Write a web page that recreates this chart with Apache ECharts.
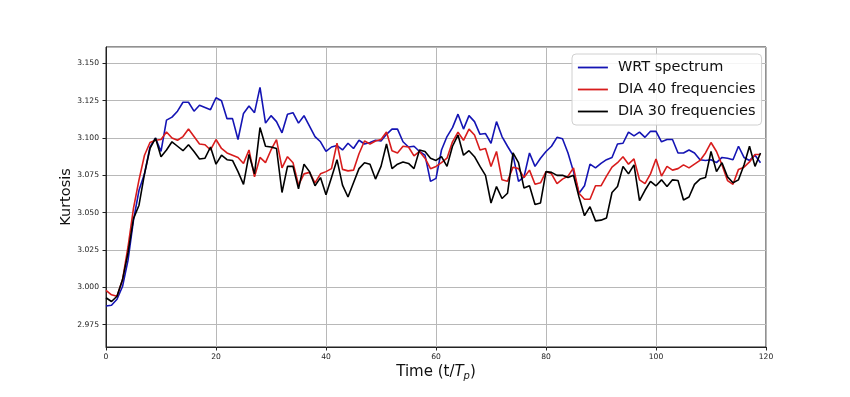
<!DOCTYPE html>
<html>
<head>
<meta charset="utf-8">
<script src="https://cdn.jsdelivr.net/npm/echarts@6/dist/echarts.min.js"></script>
<style>
  html, body { margin: 0; padding: 0; background: #fff; }
  #main { width: 850px; height: 397px; }
</style>
</head>
<body>
<div id="main"></div>
<script>
// kurtosis samples, one per t/Tp step (0..119)
const wrtSpectrum = [
  2.9875, 2.988, 2.992, 3.0005, 3.018, 3.045, 3.065, 3.076, 3.094, 3.100,
  3.091, 3.112, 3.114, 3.118, 3.124, 3.124, 3.118, 3.122, 3.1205, 3.119,
  3.127, 3.125, 3.113, 3.113, 3.099, 3.1165, 3.1215, 3.117, 3.134, 3.110,
  3.115, 3.111, 3.1035, 3.116, 3.117, 3.110, 3.115, 3.108, 3.101, 3.0975,
  3.091, 3.094, 3.095, 3.092, 3.0965, 3.093, 3.0985, 3.096, 3.097, 3.0985,
  3.098, 3.1025, 3.106, 3.106, 3.0975, 3.094, 3.0945, 3.091, 3.0885, 3.071,
  3.073, 3.092, 3.101, 3.107, 3.116, 3.106, 3.115, 3.111, 3.1025, 3.103,
  3.0965, 3.111, 3.101, 3.0945, 3.0885, 3.071, 3.074, 3.090, 3.081, 3.0865,
  3.091, 3.0945, 3.1005, 3.0995, 3.090, 3.0775, 3.063, 3.068, 3.0825, 3.080,
  3.083, 3.0855, 3.087, 3.096, 3.0965, 3.104, 3.1015, 3.104, 3.1005, 3.1045,
  3.1045, 3.0975, 3.099, 3.099, 3.090, 3.090, 3.092, 3.090, 3.0855, 3.085,
  3.0855, 3.0835, 3.087, 3.0865, 3.0855, 3.0945, 3.087, 3.085, 3.0885, 3.0835
];
const dia40 = [
  2.998, 2.995, 2.994, 3.005, 3.027, 3.053, 3.072, 3.0885, 3.097, 3.0985,
  3.099, 3.104, 3.100, 3.0985, 3.101, 3.106, 3.101, 3.096, 3.0955, 3.092,
  3.099, 3.093, 3.090, 3.0885, 3.087, 3.083, 3.092, 3.074, 3.087, 3.0835,
  3.092, 3.099, 3.080, 3.0875, 3.0835, 3.0685, 3.076, 3.077, 3.070, 3.076,
  3.0775, 3.0795, 3.0965, 3.079, 3.078, 3.0785, 3.0895, 3.098, 3.096, 3.098,
  3.099, 3.104, 3.0915, 3.090, 3.0945, 3.094, 3.088, 3.091, 3.0865, 3.0795,
  3.081, 3.0835, 3.0865, 3.0975, 3.104, 3.0985, 3.106, 3.102, 3.092, 3.093,
  3.081, 3.091, 3.072, 3.071, 3.0805, 3.0795, 3.0735, 3.0785, 3.069, 3.070,
  3.0775, 3.076, 3.0695, 3.0725, 3.0745, 3.080, 3.063, 3.059, 3.059, 3.068,
  3.068, 3.0745, 3.0805, 3.0835, 3.0875, 3.0825, 3.086, 3.072, 3.0695, 3.076,
  3.086, 3.0745, 3.081, 3.0785, 3.0795, 3.082, 3.080, 3.0825, 3.085, 3.090,
  3.097, 3.091, 3.082, 3.0715, 3.069, 3.079, 3.0805, 3.084, 3.089, 3.089
];
const dia30 = [
  2.993, 2.9905, 2.994, 3.005, 3.023, 3.046, 3.055, 3.076, 3.093, 3.100,
  3.0875, 3.092, 3.0975, 3.0945, 3.0915, 3.0955, 3.091, 3.086, 3.0865, 3.094,
  3.0825, 3.0885, 3.0855, 3.085, 3.0775, 3.069, 3.089, 3.076, 3.107, 3.0945,
  3.094, 3.093, 3.0635, 3.081, 3.081, 3.066, 3.0825, 3.0775, 3.068, 3.0735,
  3.062, 3.0735, 3.0855, 3.0685, 3.0605, 3.070, 3.0795, 3.0835, 3.0825, 3.0725,
  3.081, 3.096, 3.0795, 3.0825, 3.084, 3.083, 3.0795, 3.092, 3.091, 3.0865,
  3.085, 3.0875, 3.081, 3.0945, 3.102, 3.0885, 3.0915, 3.0875, 3.081, 3.075,
  3.0565, 3.0675, 3.0595, 3.063, 3.090, 3.0835, 3.0665, 3.068, 3.0555, 3.0565,
  3.0775, 3.077, 3.075, 3.075, 3.0735, 3.075, 3.0605, 3.048, 3.054, 3.0445,
  3.045, 3.0465, 3.0635, 3.0675, 3.081, 3.076, 3.082, 3.058, 3.065, 3.071,
  3.068, 3.072, 3.0675, 3.072, 3.0715, 3.0585, 3.0605, 3.069, 3.0725, 3.0735,
  3.091, 3.0775, 3.0835, 3.074, 3.070, 3.072, 3.082, 3.0945, 3.081, 3.090
];
const seriesNames = ['WRT spectrum', 'DIA 40 frequencies', 'DIA 30 frequencies'];
const seriesColors = ['#1414b4', '#d81c1c', '#000000'];

const font = 'DejaVu Sans';

var chartDom = document.getElementById('main');
var myChart = echarts.init(chartDom);

let seriesData = [wrtSpectrum, dia40, dia30].map((vals, k) => ({
    name: seriesNames[k],
    type: 'line',
    symbol: 'none',
    data: vals.map((v, i) => [i, v]),
    lineStyle: { color: seriesColors[k], width: 1.6 },
    itemStyle: { color: seriesColors[k], opacity: 0 },
    animation: false
}));

let option = {
    backgroundColor: '#fff',
    animation: false,
    grid: {
        left: 106,
        right: 84,
        top: 47,
        bottom: 50,
        show: true,
        borderColor: '#222',
        borderWidth: 1
    },
    legend: {
        orient: 'vertical',
        left: 572,
        top: 54,
        padding: [6, 6, 6, 5],
        itemWidth: 30,
        itemHeight: 14,
        itemGap: 7,
        backgroundColor: 'rgba(255,255,255,0.85)',
        borderColor: '#d0d0d0',
        borderWidth: 1,
        borderRadius: 4,
        itemStyle: { opacity: 0 },
        lineStyle: { width: 1.8 },
        textStyle: { fontFamily: font, fontSize: 14.5, color: '#111', padding: [0, 0, 0, 5] },
        data: seriesNames
    },
    xAxis: {
        type: 'value',
        min: 0,
        max: 120,
        interval: 20,
        name: 'Time (t/{it|T}{sub|p})',
        nameLocation: 'middle',
        nameGap: 17,
        nameMoveOverlap: false,
        nameTextStyle: {
            fontFamily: font, fontSize: 15, color: '#111',
            rich: {
                it: { fontFamily: font, fontSize: 15, fontStyle: 'italic', color: '#111' },
                sub: { fontFamily: font, fontSize: 10, fontStyle: 'italic', color: '#111', verticalAlign: 'bottom', padding: [7, 0, 0, 0] }
            }
        },
        axisLine: { show: true, lineStyle: { color: '#222', width: 1 } },
        axisTick: { show: true, length: 3.5, lineStyle: { color: '#222' } },
        axisLabel: { fontFamily: font, fontSize: 7.6, color: '#222', margin: 6 },
        splitLine: { show: true, lineStyle: { color: '#b8b8b8', width: 1 } }
    },
    yAxis: {
        type: 'value',
        min: 2.96,
        max: 3.161,
        minInterval: 0.025,
        maxInterval: 0.025,
        name: 'Kurtosis',
        nameLocation: 'middle',
        nameGap: 32,
        nameMoveOverlap: false,
        nameTextStyle: { fontFamily: font, fontSize: 14.5, color: '#111' },
        axisLine: { show: true, lineStyle: { color: '#222', width: 1 } },
        axisTick: { show: true, length: 3.5, lineStyle: { color: '#222' } },
        axisLabel: {
            fontFamily: font, fontSize: 7.6, color: '#222', margin: 7,
            showMinLabel: false, showMaxLabel: false,
            formatter: v => v.toFixed(3)
        },
        splitLine: { show: true, lineStyle: { color: '#b8b8b8', width: 1 } }
    },
    series: seriesData
};

option && myChart.setOption(option);
</script>
</body>
</html>
